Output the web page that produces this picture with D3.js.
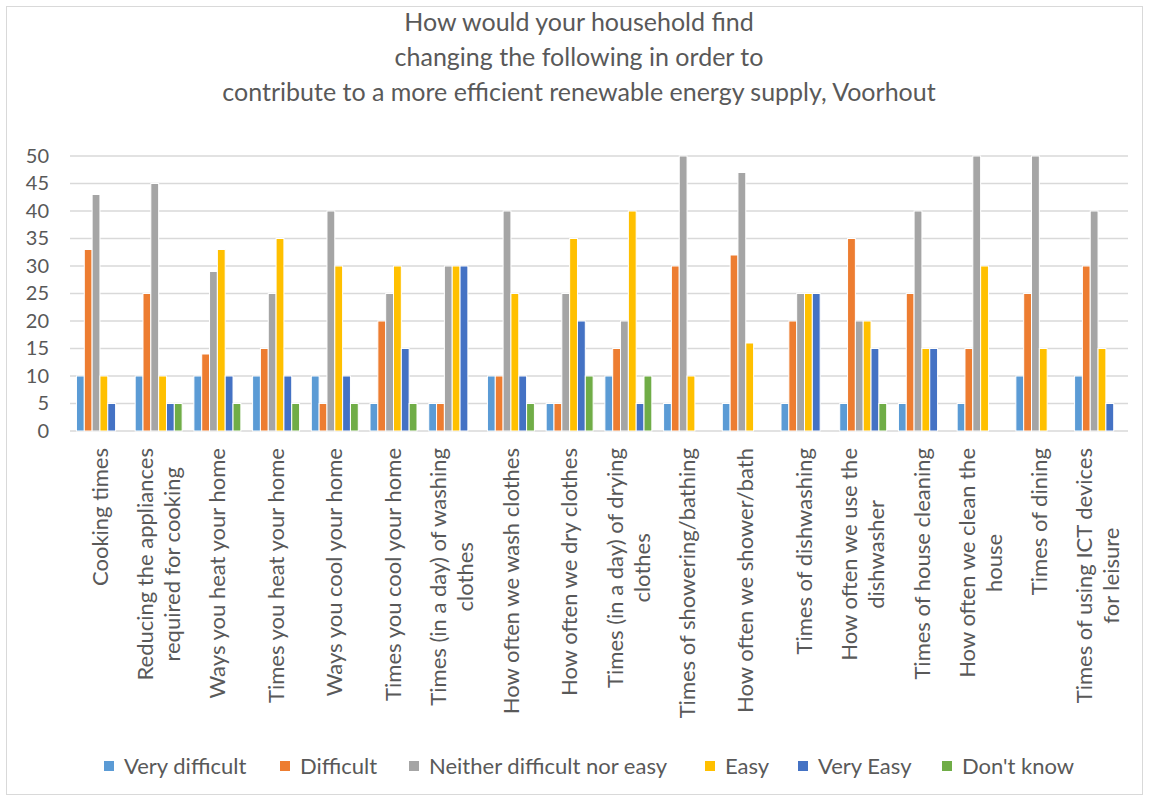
<html>
<head>
<meta charset="UTF-8">
<title>Voorhout household survey</title>
<script src="https://cdn.jsdelivr.net/npm/d3@7"></script>
<style>
body { margin: 0; background: #fff; }
text { font-family: Lato, "Open Sans", sans-serif; fill: #595959; }
</style>
</head>
<body>
<div id="chart"></div>
<script>
// categories (line breaks as in the original labels)
var categories = [
	"Cooking times",
	"Reducing the appliances\nrequired for cooking",
	"Ways you heat your home",
	"Times you heat your home",
	"Ways you cool your home",
	"Times you cool your home",
	"Times (in a day) of washing\nclothes",
	"How often we wash clothes",
	"How often we dry clothes",
	"Times (in a day) of drying\nclothes",
	"Times of showering/bathing",
	"How often we shower/bath",
	"Times of dishwashing",
	"How often we use the\ndishwasher",
	"Times of house cleaning",
	"How often we clean the\nhouse",
	"Times of dining",
	"Times of using ICT devices\nfor leisure"
];
var seriesNames = ["Very difficult", "Difficult", "Neither difficult nor easy", "Easy", "Very Easy", "Don't know"];
var veryDifficult = [10, 10, 10, 10, 10, 5, 5, 10, 5, 10, 5, 5, 5, 5, 5, 5, 10, 10];
var difficult     = [33, 25, 14, 15, 5, 20, 5, 10, 5, 15, 30, 32, 20, 35, 25, 15, 25, 30];
var neither       = [43, 45, 29, 25, 40, 25, 30, 40, 25, 20, 50, 47, 25, 20, 40, 50, 50, 40];
var easy          = [10, 10, 33, 35, 30, 30, 30, 25, 35, 40, 10, 16, 25, 20, 15, 30, 15, 15];
var veryEasy      = [5, 5, 10, 10, 10, 15, 30, 10, 20, 5, 0, 0, 25, 15, 15, 0, 0, 5];
var dontKnow      = [0, 5, 5, 5, 5, 5, 0, 5, 10, 10, 0, 0, 0, 5, 0, 0, 0, 0];
var yTicks = [0, 5, 10, 15, 20, 25, 30, 35, 40, 45, 50];
var titleLines = ["How would your household find", "changing the following in order to",
	"contribute to a more efficient renewable energy supply, Voorhout"];

var allSeries = [veryDifficult, difficult, neither, easy, veryEasy, dontKnow];
var colors = ["#5b9bd5", "#ed7d31", "#a5a5a5", "#ffc000", "#4472c4", "#70ad47"];

var width = 1149, height = 801;
var plot = { left: 70, right: 1128, top: 156, bottom: 431 };

var svg = d3.select("#chart").append("svg")
	.attr("width", width).attr("height", height);

// chart frame
svg.append("rect")
	.attr("x", 6.5).attr("y", 6.5)
	.attr("width", width - 13).attr("height", height - 13)
	.attr("fill", "none").attr("stroke", "#d9d9d9").attr("stroke-width", 1);

// title
svg.append("g").selectAll("text")
	.data(titleLines).enter().append("text")
	.attr("x", 579).attr("y", function(d, i) { return 31 + i * 35; })
	.attr("text-anchor", "middle")
	.attr("font-size", "25px")
	.text(function(d) { return d; });

var x0 = d3.scaleBand()
	.domain(d3.range(categories.length))
	.range([plot.left, plot.right])
	.paddingInner(0.2).paddingOuter(0.11);
var x1 = d3.scaleBand()
	.domain(d3.range(seriesNames.length))
	.range([0, x0.bandwidth()]);
var y = d3.scaleLinear().domain([0, 50]).range([plot.bottom, plot.top]);

// gridlines
svg.append("g").selectAll("line")
	.data(yTicks).enter().append("line")
	.attr("x1", plot.left).attr("x2", plot.right)
	.attr("y1", function(d) { return y(d); })
	.attr("y2", function(d) { return y(d); })
	.attr("stroke", "#d9d9d9").attr("stroke-width", 1.5);

// y axis labels
var yAxis = d3.axisLeft(y).tickValues(yTicks).tickSize(0).tickPadding(0);
var yg = svg.append("g")
	.attr("transform", "translate(49,0)")
	.call(yAxis);
yg.select(".domain").remove();
yg.selectAll("text")
	.attr("font-size", "20px")
	.attr("font-family", "Lato, sans-serif")
	.attr("fill", "#595959");

// bars
allSeries.forEach(function(values, s) {
	svg.append("g").selectAll("rect")
		.data(values).enter().append("rect")
		.attr("x", function(d, i) { return x0(i) + x1(s); })
		.attr("y", function(d) { return y(d); })
		.attr("width", x1.bandwidth())
		.attr("height", function(d) { return plot.bottom - y(d); })
		.attr("fill", colors[s])
		.attr("stroke", "#fff")
		.attr("stroke-width", 1);
});

// category labels, rotated
var lh = 27;
var labels = svg.append("g").selectAll("g")
	.data(categories).enter().append("g");
labels.each(function(d, i) {
	var g = d3.select(this);
	var lines = d.split("\n");
	var ts = lines.map(function(line, k) {
		return g.append("text")
			.attr("font-size", "22px")
			.attr("text-anchor", "middle")
			.attr("dy", "0.35em")
			.attr("y", (k - (lines.length - 1) / 2) * lh)
			.text(line);
	});
	var maxW = d3.max(ts, function(t) { return t.node().getComputedTextLength(); });
	var cx = x0(i) + x0.bandwidth() / 2;
	g.attr("transform", "translate(" + cx + "," + (448 + maxW / 2) + ") rotate(-90)");
});

// legend
var legendX = [104, 280, 409, 705, 798, 942];
var legend = svg.append("g").selectAll("g")
	.data(seriesNames).enter().append("g")
	.attr("transform", function(d, i) { return "translate(" + legendX[i] + ",766)"; });
legend.append("rect")
	.attr("x", 0).attr("y", -5)
	.attr("width", 10).attr("height", 10)
	.attr("fill", function(d, i) { return colors[i]; });
legend.append("text")
	.attr("x", 20).attr("dy", "0.35em")
	.attr("font-size", "22px")
	.text(function(d) { return d; });
</script>
</body>
</html>
